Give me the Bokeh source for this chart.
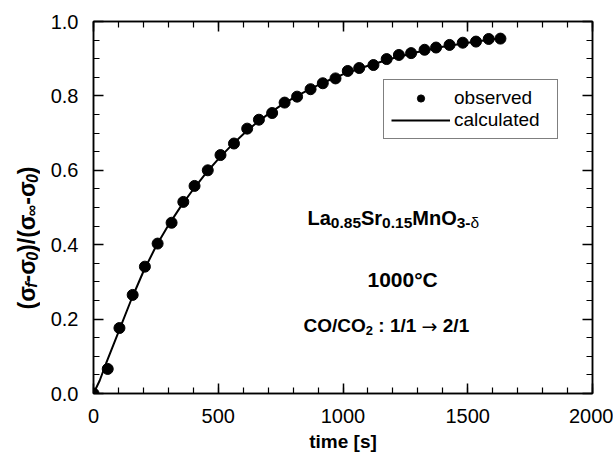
import math

from bokeh.core.properties import value
from bokeh.embed import file_html
from bokeh.layouts import row
from bokeh.models import (FixedTicker, Label, Legend, LegendItem, LinearAxis,
                          PrintfTickFormatter, Range1d)
from bokeh.plotting import figure
from bokeh.resources import INLINE

# Relaxation of the normalised conductivity of La0.85Sr0.15MnO3-d at 1000 C
# after switching CO/CO2 from 1/1 to 2/1.
time_obs = [0, 57, 104, 157, 206, 257, 313, 360, 405, 458, 509, 563, 616, 663,
            716, 766, 816, 870, 919, 970, 1019, 1065, 1122, 1175, 1224, 1273,
            1327, 1373, 1427, 1480, 1533, 1584, 1631]
frac_obs = [0.0, 0.066, 0.176, 0.265, 0.341, 0.403, 0.459, 0.515, 0.558, 0.600,
            0.641, 0.672, 0.712, 0.736, 0.754, 0.782, 0.798, 0.818, 0.834, 0.847,
            0.867, 0.875, 0.883, 0.899, 0.910, 0.915, 0.924, 0.930, 0.937, 0.943,
            0.946, 0.953, 0.954]

time_calc = [0, 25, 50, 100, 150, 200, 250, 300, 350, 400, 450, 500, 550, 600,
             650, 700, 750, 800, 850, 900, 950, 1000, 1100, 1200, 1300, 1400,
             1500, 1600, 1640]
frac_calc = [0.0, 0.035, 0.08, 0.165, 0.25, 0.328, 0.395, 0.452, 0.503, 0.549,
             0.592, 0.630, 0.665, 0.697, 0.726, 0.751, 0.774, 0.794, 0.812, 0.829,
             0.844, 0.858, 0.881, 0.901, 0.918, 0.932, 0.943, 0.952, 0.955]

x_ticks = [0, 500, 1000, 1500, 2000]
x_minor = list(range(0, 2001, 100))
y_ticks = [0.0, 0.2, 0.4, 0.6, 0.8, 1.0]
y_minor = [i * 0.05 for i in range(21)]

# page and frame geometry in pixels
PAGE_W, PAGE_H = 613, 461
SIDE_W = 40                      # strip holding the rotated y title
FL, FT, FW, FH = 93, 21, 499, 372
X_MAX = 2000.0
FONT = "Liberation Sans"


def dx(px):
    return (px - FL) * X_MAX / FW


def dy(py):
    return (FT + FH - py) / FH


# advance widths (1/1000 em) for Liberation Sans Bold
ADV = {'L': 611, 'a': 556, 'S': 667, 'r': 389, 'M': 833, 'n': 611, 'O': 778,
       'C': 722, '/': 278, ':': 333, ' ': 278, '.': 278, '-': 333, '°': 400,
       '(': 333, ')': 333, 'σ': 610, 'δ': 611, '∞': 713, 'f': 333, '→': 838}


def text_width(s, size):
    return sum(ADV.get(ch, 556) for ch in s) * size / 1000.0


p = figure(frame_width=FW, frame_height=FH,
           min_border_left=FL - SIDE_W, min_border_top=FT,
           min_border_right=PAGE_W - FL - FW, min_border_bottom=PAGE_H - FT - FH,
           x_range=Range1d(0, X_MAX), y_range=Range1d(0, 1),
           output_backend="svg", toolbar_location=None)
p.xgrid.visible = False
p.ygrid.visible = False
p.outline_line_color = "black"
p.outline_line_width = 1.5
p.background_fill_color = "white"
p.border_fill_color = "white"

bottom_ax = p.xaxis[0]
left_ax = p.yaxis[0]
bottom_ax.ticker = FixedTicker(ticks=x_ticks, minor_ticks=x_minor)
left_ax.ticker = FixedTicker(ticks=y_ticks, minor_ticks=y_minor)
left_ax.formatter = PrintfTickFormatter(format="%.1f")
bottom_ax.axis_label = "time [s]"
bottom_ax.axis_label_text_font = FONT
bottom_ax.axis_label_text_font_style = "bold"
bottom_ax.axis_label_text_font_size = "19px"
bottom_ax.axis_label_text_color = "black"
bottom_ax.axis_label_standoff = 5
for ax in (bottom_ax, left_ax):
    ax.major_label_text_font = FONT
    ax.major_label_text_font_size = "20px"
    ax.major_label_text_color = "black"
    ax.major_label_standoff = 15

# tick-only axes on the top and right edges
top_ax = LinearAxis(ticker=FixedTicker(ticks=x_ticks, minor_ticks=x_minor))
right_ax = LinearAxis(ticker=FixedTicker(ticks=y_ticks, minor_ticks=y_minor))
for ax in (top_ax, right_ax):
    ax.major_label_text_font_size = "1px"
    ax.major_label_text_color = None
    ax.major_label_standoff = 0
p.add_layout(top_ax, "above")
p.add_layout(right_ax, "right")

for ax in (bottom_ax, left_ax, top_ax, right_ax):
    ax.axis_line_color = "black"
    ax.axis_line_width = 1.5
    ax.major_tick_line_color = "black"
    ax.minor_tick_line_color = "black"
    ax.major_tick_line_width = 1.5
    ax.minor_tick_line_width = 1.2
    ax.major_tick_in = 10
    ax.major_tick_out = 0
    ax.minor_tick_in = 6
    ax.minor_tick_out = 0

calc = p.line(time_calc, frac_calc, line_color="black", line_width=2)
obs = p.scatter(time_obs, frac_obs, size=11, marker="circle",
                fill_color="black", line_color="black")

legend = Legend(items=[LegendItem(label="observed", renderers=[obs]),
                       LegendItem(label="calculated", renderers=[calc])],
                location=(290, 254), glyph_width=59, glyph_height=18,
                label_standoff=4, label_width=96, label_height=18,
                padding=7, spacing=0, margin=0,
                border_line_color="black", border_line_width=1.5,
                background_fill_color="white", background_fill_alpha=1.0,
                label_text_font=FONT, label_text_font_size="19px",
                label_text_color="black")
p.add_layout(legend, "center")


def runs(parts, x0, base):
    """Draw text pieces one after another along a baseline; each part is
    (text, size, style, baseline shift in px, font)."""
    pos = 0.0
    for txt, size, style, shift, font in parts:
        core = txt.strip(" ")
        lead = len(txt) - len(txt.lstrip(" "))
        trail = len(txt) - len(txt.rstrip(" "))
        pos += text_width(" " * lead, size)
        p.add_layout(Label(x=dx(x0 + pos), y=dy(base + shift), text=core,
                           text_font=font, text_font_size=f"{size}px",
                           text_font_style=style, text_color="black",
                           text_align="left", text_baseline="alphabetic"))
        pos += text_width(core, size) + text_width(" " * trail, size)


M, S = 20, 15.5
runs([("La", M, "bold", 0, FONT), ("0.85", S, "bold", 5, FONT),
      ("Sr", M, "bold", 0, FONT), ("0.15", S, "bold", 5, FONT),
      ("MnO", M, "bold", 0, FONT), ("3-", S, "bold", 5, FONT),
      ("δ", S, "normal", 5, FONT)], 307, 217)

runs([("1000°C", 21, "bold", 0, FONT)], 367, 279)

runs([("CO/CO", 19, "bold", 0, FONT), ("2", 13, "bold", 5, FONT),
      (" : 1/1 ", 19, "bold", 0, FONT), ("→", 19, "normal", 0, "DejaVu Sans"),
      (" 2/1", 19, "bold", 0, FONT)], 303, 325)

# narrow axis-free strip left of the plot carrying the rotated y title;
# its data units are pixels (x from the left, y from the bottom)
side = figure(frame_width=SIDE_W, frame_height=PAGE_H,
              x_range=Range1d(0, SIDE_W), y_range=Range1d(0, PAGE_H),
              x_axis_type=None, y_axis_type=None, min_border=0,
              output_backend="svg", toolbar_location=None)
side.grid.visible = False
side.outline_line_color = None
side.background_fill_color = "white"
side.border_fill_color = "white"

YM, YS = 23, 16
title_parts = [("(σ", YM, "bold", 0), ("f", YS, "bold italic", 5),
               ("-σ", YM, "bold", 0), ("0", YS, "bold italic", 5),
               (")/(σ", YM, "bold", 0), ("∞", YS, "bold", 5),
               ("-σ", YM, "bold", 0), ("0", YS, "bold italic", 5),
               (")", YM, "bold", 0)]
base_x, start_y = 26, PAGE_H - 288
pos = 0.0
for txt, size, style, shift in title_parts:
    side.text(x=[base_x + shift], y=[start_y + pos], text=[txt],
              angle=math.pi / 2, text_font=value(FONT),
              text_font_size=f"{size}px", text_font_style=style,
              text_color="black", text_align="left",
              text_baseline="alphabetic")
    pos += text_width(txt, size)

layout = row(side, p, spacing=0)
open("out.html", "w").write(file_html(layout, INLINE))
